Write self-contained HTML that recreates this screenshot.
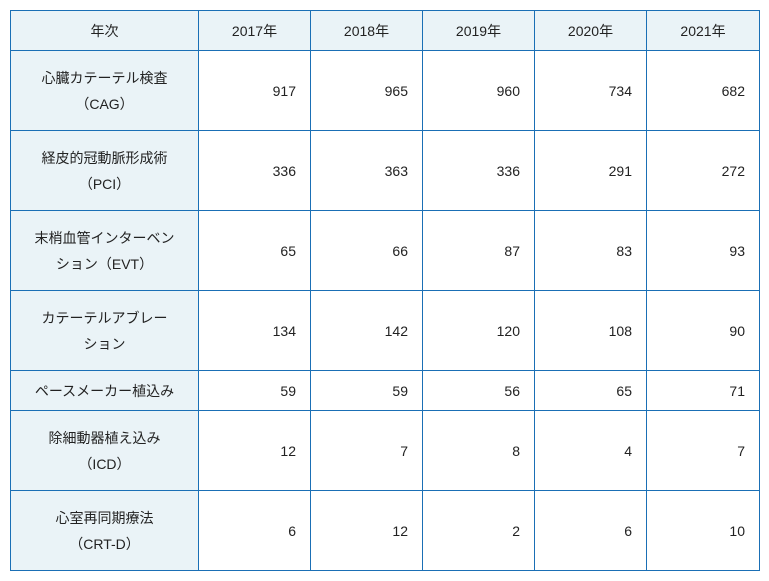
<!DOCTYPE html>
<html><head><meta charset="utf-8"><style>
body{margin:0;background:#fff;width:769px;height:581px;overflow:hidden}
table{position:absolute;left:10px;top:10px;border-collapse:collapse;font-family:"Liberation Sans","Noto Sans CJK JP",sans-serif;font-size:14px;color:#222;table-layout:fixed}
td,th{border:1px solid #1a6fb5;padding:0 14px;line-height:26px;font-weight:normal}
th{background:#eaf3f7;text-align:center;height:39px}
td{text-align:right;height:79px}
td.h{background:#eaf3f7;text-align:center;padding:0 8px}
tr.s td{height:39px}
</style></head><body>
<table>
<colgroup><col style="width:188px"><col style="width:112px"><col style="width:112px"><col style="width:112px"><col style="width:112px"><col style="width:113px"></colgroup>
<tr><th>年次</th><th>2017年</th><th>2018年</th><th>2019年</th><th>2020年</th><th>2021年</th></tr>
<tr><td class="h">心臓カテーテル検査<br>（CAG）</td><td>917</td><td>965</td><td>960</td><td>734</td><td>682</td></tr>
<tr><td class="h">経皮的冠動脈形成術<br>（PCI）</td><td>336</td><td>363</td><td>336</td><td>291</td><td>272</td></tr>
<tr><td class="h">末梢血管インターベン<br>ション（EVT）</td><td>65</td><td>66</td><td>87</td><td>83</td><td>93</td></tr>
<tr><td class="h">カテーテルアブレー<br>ション</td><td>134</td><td>142</td><td>120</td><td>108</td><td>90</td></tr>
<tr class="s"><td class="h">ペースメーカー植込み</td><td>59</td><td>59</td><td>56</td><td>65</td><td>71</td></tr>
<tr><td class="h">除細動器植え込み<br>（ICD）</td><td>12</td><td>7</td><td>8</td><td>4</td><td>7</td></tr>
<tr><td class="h">心室再同期療法<br>（CRT-D）</td><td>6</td><td>12</td><td>2</td><td>6</td><td>10</td></tr>
</table>
</body></html>
